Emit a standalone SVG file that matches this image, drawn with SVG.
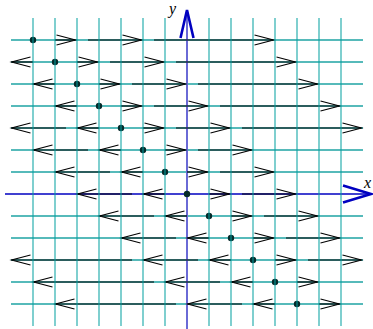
<svg xmlns="http://www.w3.org/2000/svg" width="373" height="329" viewBox="0 0 373 329">
<style>
.h{stroke:#1ea3a3;stroke-width:1.3;fill:none}
.v{stroke:#00a0a0;stroke-width:2;stroke-opacity:0.5;fill:none}
.a{stroke:#000;stroke-width:1.2;fill:none;marker-end:url(#chev)}
.dot{fill:#042a2a}
.ax{stroke:#0000c0;stroke-width:1.3;fill:none}
.ay{stroke:#6a6ad6;stroke-width:2;fill:none}
.ah{stroke:#0000c0;stroke-width:2.6;fill:none;stroke-linejoin:miter}
.lbl{font-family:"Liberation Serif",serif;font-style:italic;font-size:16px;fill:#000}
</style>
<defs>
<marker id="chev" viewBox="-20 -6 22 12" refX="0" refY="0" markerWidth="22" markerHeight="12" markerUnits="userSpaceOnUse" orient="auto" overflow="visible">
<path d="M-19,-5 L0,0 L-19,5" stroke="#000" stroke-width="1.1" fill="none"/>
</marker>
</defs>
<rect width="373" height="329" fill="#fff"/>
<g id="grid-h">
<line class="h" x1="11" y1="40" x2="363" y2="40"/>
<line class="h" x1="11" y1="62" x2="363" y2="62"/>
<line class="h" x1="11" y1="84" x2="363" y2="84"/>
<line class="h" x1="11" y1="106" x2="363" y2="106"/>
<line class="h" x1="11" y1="128" x2="363" y2="128"/>
<line class="h" x1="11" y1="150" x2="363" y2="150"/>
<line class="h" x1="11" y1="172" x2="363" y2="172"/>
<line class="h" x1="11" y1="216" x2="363" y2="216"/>
<line class="h" x1="11" y1="238" x2="363" y2="238"/>
<line class="h" x1="11" y1="260" x2="363" y2="260"/>
<line class="h" x1="11" y1="282" x2="363" y2="282"/>
<line class="h" x1="11" y1="304" x2="363" y2="304"/>
</g>
<g id="x-axis">
<line class="ax" x1="5" y1="194" x2="370" y2="194"/>
</g>
<g id="y-axis">
<line class="ay" x1="187" y1="12" x2="187" y2="329"/>
</g>
<g id="connectors">
<!-- row 0 -->
<line class="a" x1="55" y1="40" x2="75.5" y2="40"/>
<line class="a" x1="88" y1="40" x2="141.5" y2="40"/>
<line class="a" x1="154" y1="40" x2="273.5" y2="40"/>
<!-- row 1 -->
<line class="a" x1="77" y1="62" x2="97.5" y2="62"/>
<line class="a" x1="110" y1="62" x2="163.5" y2="62"/>
<line class="a" x1="176" y1="62" x2="295.5" y2="62"/>
<line class="a" x1="33" y1="62" x2="11.5" y2="62"/>
<!-- row 2 -->
<line class="a" x1="99" y1="84" x2="119.5" y2="84"/>
<line class="a" x1="132" y1="84" x2="185.5" y2="84"/>
<line class="a" x1="198" y1="84" x2="317.5" y2="84"/>
<line class="a" x1="55" y1="84" x2="33.5" y2="84"/>
<!-- row 3 -->
<line class="a" x1="121" y1="106" x2="141.5" y2="106"/>
<line class="a" x1="154" y1="106" x2="207.5" y2="106"/>
<line class="a" x1="220" y1="106" x2="339.5" y2="106"/>
<line class="a" x1="77" y1="106" x2="55.5" y2="106"/>
<!-- row 4 -->
<line class="a" x1="143" y1="128" x2="163.5" y2="128"/>
<line class="a" x1="176" y1="128" x2="229.5" y2="128"/>
<line class="a" x1="242" y1="128" x2="361.5" y2="128"/>
<line class="a" x1="99" y1="128" x2="77.5" y2="128"/>
<line class="a" x1="66" y1="128" x2="11.5" y2="128"/>
<!-- row 5 -->
<line class="a" x1="165" y1="150" x2="185.5" y2="150"/>
<line class="a" x1="198" y1="150" x2="251.5" y2="150"/>
<line class="a" x1="121" y1="150" x2="99.5" y2="150"/>
<line class="a" x1="88" y1="150" x2="33.5" y2="150"/>
<!-- row 6 -->
<line class="a" x1="187" y1="172" x2="207.5" y2="172"/>
<line class="a" x1="220" y1="172" x2="273.5" y2="172"/>
<line class="a" x1="143" y1="172" x2="121.5" y2="172"/>
<line class="a" x1="110" y1="172" x2="55.5" y2="172"/>
<!-- row 7 -->
<line class="a" x1="209" y1="194" x2="229.5" y2="194"/>
<line class="a" x1="242" y1="194" x2="295.5" y2="194"/>
<line class="a" x1="165" y1="194" x2="143.5" y2="194"/>
<line class="a" x1="132" y1="194" x2="77.5" y2="194"/>
<!-- row 8 -->
<line class="a" x1="231" y1="216" x2="251.5" y2="216"/>
<line class="a" x1="264" y1="216" x2="317.5" y2="216"/>
<line class="a" x1="187" y1="216" x2="165.5" y2="216"/>
<line class="a" x1="154" y1="216" x2="99.5" y2="216"/>
<!-- row 9 -->
<line class="a" x1="253" y1="238" x2="273.5" y2="238"/>
<line class="a" x1="286" y1="238" x2="339.5" y2="238"/>
<line class="a" x1="209" y1="238" x2="187.5" y2="238"/>
<line class="a" x1="176" y1="238" x2="121.5" y2="238"/>
<!-- row 10 -->
<line class="a" x1="275" y1="260" x2="295.5" y2="260"/>
<line class="a" x1="308" y1="260" x2="361.5" y2="260"/>
<line class="a" x1="231" y1="260" x2="209.5" y2="260"/>
<line class="a" x1="198" y1="260" x2="143.5" y2="260"/>
<line class="a" x1="132" y1="260" x2="11.5" y2="260"/>
<!-- row 11 -->
<line class="a" x1="297" y1="282" x2="317.5" y2="282"/>
<line class="a" x1="253" y1="282" x2="231.5" y2="282"/>
<line class="a" x1="220" y1="282" x2="165.5" y2="282"/>
<line class="a" x1="154" y1="282" x2="33.5" y2="282"/>
<!-- row 12 -->
<line class="a" x1="319" y1="304" x2="339.5" y2="304"/>
<line class="a" x1="275" y1="304" x2="253.5" y2="304"/>
<line class="a" x1="242" y1="304" x2="187.5" y2="304"/>
<line class="a" x1="176" y1="304" x2="55.5" y2="304"/>
</g>
<g id="dots">
<circle class="dot" cx="33" cy="40" r="3.2"/>
<circle class="dot" cx="55" cy="62" r="3.2"/>
<circle class="dot" cx="77" cy="84" r="3.2"/>
<circle class="dot" cx="99" cy="106" r="3.2"/>
<circle class="dot" cx="121" cy="128" r="3.2"/>
<circle class="dot" cx="143" cy="150" r="3.2"/>
<circle class="dot" cx="165" cy="172" r="3.2"/>
<circle class="dot" cx="187" cy="194" r="3.2"/>
<circle class="dot" cx="209" cy="216" r="3.2"/>
<circle class="dot" cx="231" cy="238" r="3.2"/>
<circle class="dot" cx="253" cy="260" r="3.2"/>
<circle class="dot" cx="275" cy="282" r="3.2"/>
<circle class="dot" cx="297" cy="304" r="3.2"/>
</g>
<g id="grid-v">
<line class="v" x1="33" y1="18" x2="33" y2="326"/>
<line class="v" x1="55" y1="18" x2="55" y2="326"/>
<line class="v" x1="77" y1="18" x2="77" y2="326"/>
<line class="v" x1="99" y1="18" x2="99" y2="326"/>
<line class="v" x1="121" y1="18" x2="121" y2="326"/>
<line class="v" x1="143" y1="18" x2="143" y2="326"/>
<line class="v" x1="165" y1="18" x2="165" y2="326"/>
<line class="v" x1="209" y1="18" x2="209" y2="326"/>
<line class="v" x1="231" y1="18" x2="231" y2="326"/>
<line class="v" x1="253" y1="18" x2="253" y2="326"/>
<line class="v" x1="275" y1="18" x2="275" y2="326"/>
<line class="v" x1="297" y1="18" x2="297" y2="326"/>
<line class="v" x1="319" y1="18" x2="319" y2="326"/>
<line class="v" x1="341" y1="18" x2="341" y2="326"/>
</g>
<g id="axis-heads">
<path class="ah" d="M180.5,38 L187,10 L193.5,38"/>
<text class="lbl" x="169" y="14">y</text>
<path class="ah" d="M343,185.5 L371,194 L343,202.5"/>
<text class="lbl" x="364" y="188">x</text>
</g>
</svg>
